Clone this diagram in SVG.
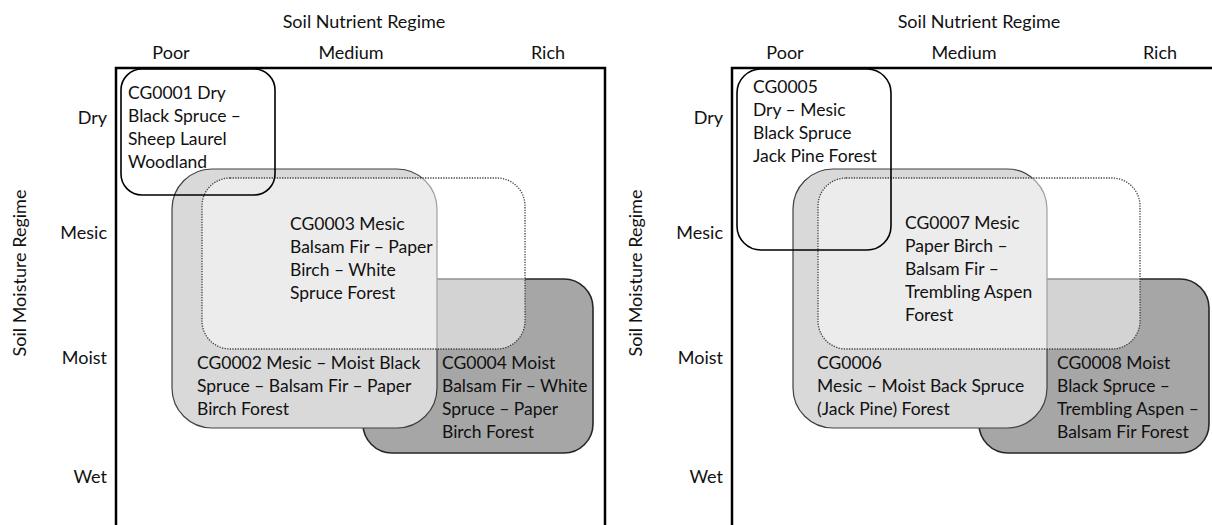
<svg xmlns="http://www.w3.org/2000/svg" width="1212" height="525" viewBox="0 0 1212 525">
<style>
text{font-family:Lato,"Liberation Sans",sans-serif;font-size:18px;fill:#111}
g.node text{font-size:17.5px}
.mid{text-anchor:middle}
.end{text-anchor:end}
.frame{fill:none;stroke:#000;stroke-width:2.5}
.outline{fill:none;stroke:#000;stroke-width:1.6}
.light{fill:#d9d9d9;stroke:#404040;stroke-width:1.2}
.dark{fill:#a6a6a6;stroke:#262626;stroke-width:1.6}
.dotted{fill:#fff;fill-opacity:0.5;stroke:#404040;stroke-width:1.3;stroke-dasharray:1.3 1.3}
</style>
<rect width="1212" height="525" fill="#fff"/>
<g id="axes-left">
<text class="mid" x="364" y="28">Soil Nutrient Regime</text>
<text class="mid" x="171" y="59">Poor</text>
<text class="mid" x="351" y="59">Medium</text>
<text class="mid" x="548" y="59">Rich</text>
<text class="end" x="107" y="124">Dry</text>
<text class="end" x="107" y="239">Mesic</text>
<text class="end" x="107" y="364">Moist</text>
<text class="end" x="107" y="483">Wet</text>
<text class="mid" transform="translate(26,273) rotate(-90)">Soil Moisture Regime</text>
<path class="frame" d="M116,527 V68 H605 V527"/>
</g>
<g id="axes-right">
<text class="mid" x="979" y="28">Soil Nutrient Regime</text>
<text class="mid" x="785" y="59">Poor</text>
<text class="mid" x="964" y="59">Medium</text>
<text class="mid" x="1160" y="59">Rich</text>
<text class="end" x="723" y="124">Dry</text>
<text class="end" x="723" y="239">Mesic</text>
<text class="end" x="723" y="364">Moist</text>
<text class="end" x="723" y="483">Wet</text>
<text class="mid" transform="translate(642,273) rotate(-90)">Soil Moisture Regime</text>
<path class="frame" d="M732,527 V68 H1222 V527"/>
</g>
<g id="CG0004" class="node">
<rect class="dark" x="363" y="279" width="230" height="174" rx="29"/>
<text x="442" y="369">CG0004 Moist</text>
<text x="442" y="392">Balsam Fir – White</text>
<text x="442" y="415">Spruce – Paper</text>
<text x="442" y="438">Birch Forest</text>
</g>
<g id="CG0002" class="node">
<rect class="light" x="172" y="169" width="265" height="259" rx="40"/>
<text x="197" y="369">CG0002 Mesic – Moist Black</text>
<text x="197" y="392">Spruce – Balsam Fir – Paper</text>
<text x="197" y="415">Birch Forest</text>
</g>
<g id="CG0003" class="node">
<rect class="dotted" x="202" y="178" width="323" height="171" rx="28"/>
<text x="290" y="230">CG0003 Mesic</text>
<text x="290" y="253">Balsam Fir – Paper</text>
<text x="290" y="276">Birch – White</text>
<text x="290" y="299">Spruce Forest</text>
</g>
<g id="CG0001" class="node">
<rect class="outline" x="121" y="69" width="154" height="126" rx="21"/>
<text x="128" y="99">CG0001 Dry</text>
<text x="128" y="122">Black Spruce –</text>
<text x="128" y="145">Sheep Laurel</text>
<text x="128" y="168">Woodland</text>
</g>
<g id="CG0008" class="node">
<rect class="dark" x="979" y="279" width="230" height="174" rx="29"/>
<text x="1057" y="369">CG0008 Moist</text>
<text x="1057" y="392">Black Spruce –</text>
<text x="1057" y="415">Trembling Aspen –</text>
<text x="1057" y="438">Balsam Fir Forest</text>
</g>
<g id="CG0006" class="node">
<rect class="light" x="793" y="169" width="254" height="259" rx="40"/>
<text x="817" y="369">CG0006</text>
<text x="817" y="392">Mesic – Moist Back Spruce</text>
<text x="817" y="415">(Jack Pine) Forest</text>
</g>
<g id="CG0007" class="node">
<rect class="dotted" x="818" y="178" width="322" height="171" rx="28"/>
<text x="905" y="229">CG0007 Mesic</text>
<text x="905" y="252">Paper Birch –</text>
<text x="905" y="275">Balsam Fir –</text>
<text x="905" y="298">Trembling Aspen</text>
<text x="905" y="321">Forest</text>
</g>
<g id="CG0005" class="node">
<rect class="outline" x="737" y="69" width="154" height="181" rx="24"/>
<text x="753" y="93">CG0005</text>
<text x="753" y="116">Dry – Mesic</text>
<text x="753" y="139">Black Spruce</text>
<text x="753" y="162">Jack Pine Forest</text>
</g>
<g id="connectors"/>
</svg>
